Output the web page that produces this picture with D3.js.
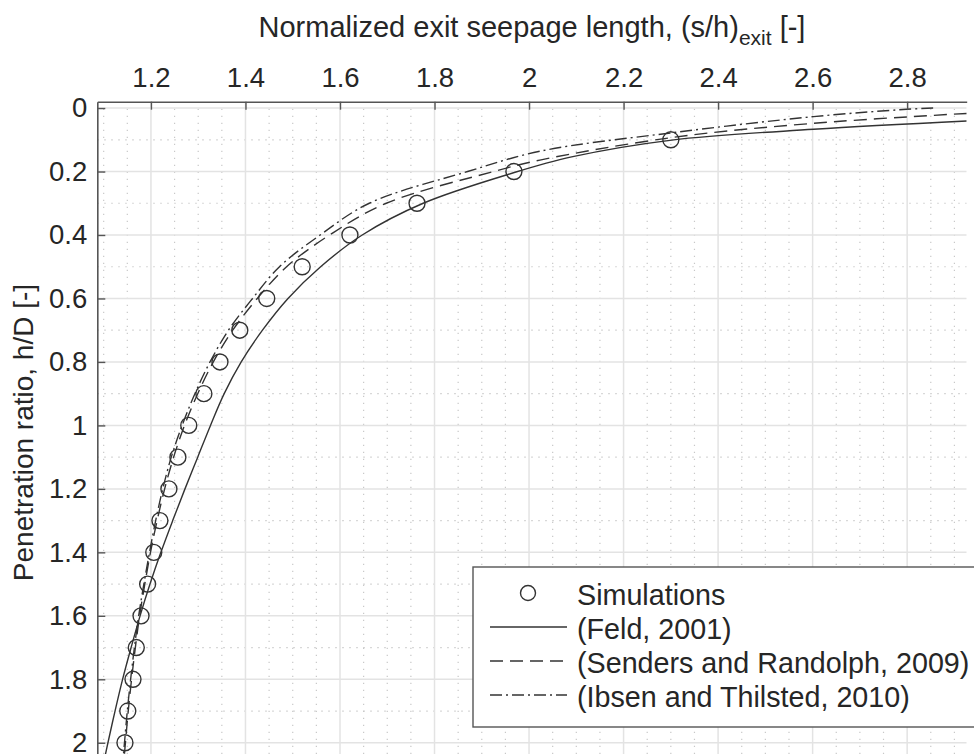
<!DOCTYPE html>
<html>
<head>
<meta charset="utf-8">
<script src="https://cdn.jsdelivr.net/npm/d3@7/dist/d3.min.js"></script>
<style>
  html, body { margin: 0; padding: 0; background: #fff; }
  svg { display: block; font-family: "Liberation Sans", Arial, Helvetica, sans-serif; }
</style>
</head>
<body>
<svg id="chart" width="974" height="754"></svg>
<script>
// Simulated penetration ratios and their normalized exit seepage lengths
const simHD = [0.1, 0.2, 0.3, 0.4, 0.5, 0.6, 0.7, 0.8, 0.9, 1.0,
               1.1, 1.2, 1.3, 1.4, 1.5, 1.6, 1.7, 1.8, 1.9, 2.0];
const simSH = [2.300, 1.968, 1.763, 1.621, 1.520, 1.445, 1.388, 1.346, 1.312, 1.280,
               1.257, 1.238, 1.219, 1.206, 1.193, 1.179, 1.169, 1.162, 1.151, 1.145];

// Feld (2001)
const feldHD = [0.041, 0.067, 0.101, 0.154, 0.204, 0.3, 0.4, 0.5, 0.6, 0.7, 0.8, 0.9, 1.0,
                1.1, 1.2, 1.3, 1.4, 1.5, 1.6, 1.7, 1.8, 1.9, 2.0, 2.07];
const feldSH = [2.926, 2.602, 2.302, 2.090, 1.967, 1.776, 1.647, 1.559, 1.490, 1.436, 1.391, 1.355, 1.326,
                1.299, 1.272, 1.246, 1.221, 1.198, 1.177, 1.158, 1.140, 1.124, 1.109, 1.099];

// Senders and Randolph (2009)
const sendersHD = [0.017, 0.048, 0.093, 0.164, 0.2, 0.3, 0.4, 0.5, 0.6, 0.7, 0.8, 0.9, 1.0,
                   1.1, 1.2, 1.3, 1.4, 1.5, 1.6, 1.7, 1.8, 1.9, 2.0, 2.07];
const sendersSH = [2.926, 2.602, 2.302, 2.023, 1.925, 1.698, 1.578, 1.487, 1.425, 1.373, 1.332, 1.299, 1.271,
                   1.248, 1.229, 1.213, 1.199, 1.187, 1.176, 1.167, 1.159, 1.152, 1.146, 1.142];

// Ibsen and Thilsted (2010)
const ibsenHD = [0.0, 0.004, 0.027, 0.078, 0.136, 0.2, 0.3, 0.4, 0.5, 0.6, 0.7, 0.8, 0.9, 1.0,
                 1.1, 1.2, 1.3, 1.4, 1.5, 1.6, 1.7, 1.8, 1.9, 2.0, 2.07];
const ibsenSH = [2.855, 2.799, 2.602, 2.302, 2.023, 1.870, 1.662, 1.558, 1.472, 1.415, 1.364, 1.325, 1.293, 1.266,
                 1.243, 1.225, 1.210, 1.197, 1.185, 1.174, 1.165, 1.157, 1.150, 1.144, 1.140];

const xTicks = [1.2, 1.4, 1.6, 1.8, 2.0, 2.2, 2.4, 2.6, 2.8];
const yTicks = [0, 0.2, 0.4, 0.6, 0.8, 1.0, 1.2, 1.4, 1.6, 1.8, 2.0];

const seriesNames = ["Simulations", "(Feld, 2001)", "(Senders and Randolph, 2009)", "(Ibsen and Thilsted, 2010)"];

const svg = d3.select("#chart");
const ink = "#333";

const plot = { left: 97.3, right: 966.7, top: 101.7, bottom: 763.4 };

const x = d3.scaleLinear().domain([1.0865, 2.926]).range([plot.left, plot.right]);
const y = d3.scaleLinear().domain([-0.02, 2.065]).range([plot.top, plot.bottom]);

const fmt = d => String(+d.toFixed(1));

// clip region for the plot area
svg.append("defs").append("clipPath").attr("id", "plot-clip")
  .append("rect")
  .attr("x", plot.left).attr("y", plot.top)
  .attr("width", plot.right - plot.left).attr("height", plot.bottom - plot.top);

// minor grid
const xMinor = d3.range(22, 59).map(i => i * 0.05).filter(v => Math.abs(v * 5 - Math.round(v * 5)) > 1e-6);
const yMinor = d3.range(0, 21).map(i => i * 0.1).filter(v => Math.abs(v * 5 - Math.round(v * 5)) > 1e-6);

const grid = svg.append("g").attr("clip-path", "url(#plot-clip)");
grid.selectAll(".xminor").data(xMinor).join("line")
  .attr("x1", d => x(d)).attr("x2", d => x(d))
  .attr("y1", plot.top).attr("y2", plot.bottom)
  .attr("stroke", "#c8c8c8").attr("stroke-width", 1.2).attr("stroke-dasharray", "1.4,5.6");
grid.selectAll(".yminor").data(yMinor).join("line")
  .attr("y1", d => y(d)).attr("y2", d => y(d))
  .attr("x1", plot.left).attr("x2", plot.right)
  .attr("stroke", "#c8c8c8").attr("stroke-width", 1.2).attr("stroke-dasharray", "1.4,5.6");

// major grid
grid.selectAll(".xmajor").data(xTicks).join("line")
  .attr("x1", d => x(d)).attr("x2", d => x(d))
  .attr("y1", plot.top).attr("y2", plot.bottom)
  .attr("stroke", "#e3e3e3").attr("stroke-width", 1.5);
grid.selectAll(".ymajor").data(yTicks).join("line")
  .attr("y1", d => y(d)).attr("y2", d => y(d))
  .attr("x1", plot.left).attr("x2", plot.right)
  .attr("stroke", "#e3e3e3").attr("stroke-width", 1.5);

// curves
const curveLayer = svg.append("g").attr("clip-path", "url(#plot-clip)");
const line = d3.line().x(d => x(d[1])).y(d => y(d[0])).curve(d3.curveCatmullRom.alpha(0.5));

const curves = [
  { hd: feldHD, sh: feldSH, dash: null },
  { hd: sendersHD, sh: sendersSH, dash: "13,7" },
  { hd: ibsenHD, sh: ibsenSH, dash: "12,4,2,4" }
];
curves.forEach(c => {
  curveLayer.append("path")
    .datum(d3.zip(c.hd, c.sh))
    .attr("d", line)
    .attr("fill", "none")
    .attr("stroke", ink)
    .attr("stroke-width", 1.4)
    .attr("stroke-dasharray", c.dash);
});

// simulation markers
curveLayer.selectAll(".sim").data(d3.zip(simHD, simSH)).join("circle")
  .attr("cx", d => x(d[1])).attr("cy", d => y(d[0])).attr("r", 8)
  .attr("fill", "none").attr("stroke", ink).attr("stroke-width", 1.4);

// axes
const axisColor = "#555";
const xAxis = svg.append("g").attr("transform", `translate(0,${plot.top})`)
  .call(d3.axisTop(x).tickValues(xTicks).tickFormat(fmt).tickSize(-8).tickSizeOuter(0).tickPadding(15));
const yAxis = svg.append("g").attr("transform", `translate(${plot.left},0)`)
  .call(d3.axisLeft(y).tickValues(yTicks).tickFormat(fmt).tickSize(-8).tickSizeOuter(0).tickPadding(10));

[xAxis, yAxis].forEach(a => {
  a.select(".domain").attr("stroke", axisColor).attr("stroke-width", 1.6);
  a.selectAll(".tick line").attr("stroke", axisColor).attr("stroke-width", 1.4);
  a.selectAll(".tick text").attr("fill", "#262626").style("font-size", "27.5px")
    .style("font-family", "'Liberation Sans', Arial, Helvetica, sans-serif");
});

// axis titles
const title = svg.append("text")
  .attr("x", (plot.left + plot.right) / 2).attr("y", 37)
  .attr("text-anchor", "middle").attr("fill", "#262626").style("font-size", "29px");
title.append("tspan").text("Normalized exit seepage length, (s/h)");
title.append("tspan").attr("dy", 8).style("font-size", "21px").text("exit");
title.append("tspan").attr("dy", -8).text(" [-]");

svg.append("text")
  .attr("transform", `translate(33,${(plot.top + plot.bottom) / 2}) rotate(-90)`)
  .attr("text-anchor", "middle").attr("fill", "#262626").style("font-size", "28px")
  .text("Penetration ratio, h/D [-]");

// legend
const legend = svg.append("g");
legend.append("rect")
  .attr("x", 473).attr("y", 567).attr("width", 530).attr("height", 160)
  .attr("fill", "#fff").attr("stroke", axisColor).attr("stroke-width", 1.4);

const rowY = [595, 629, 663, 697];
const styles = [null, null, "13,7", "12,4,2,4"];
seriesNames.forEach((name, i) => {
  const g = legend.append("g").attr("transform", `translate(0,${rowY[i]})`);
  if (i === 0) {
    g.append("circle").attr("cx", 528).attr("cy", -2).attr("r", 7.5)
      .attr("fill", "none").attr("stroke", ink).attr("stroke-width", 1.4);
  } else {
    g.append("line").attr("x1", 490).attr("x2", 567).attr("y1", -2).attr("y2", -2)
      .attr("stroke", ink).attr("stroke-width", 1.4).attr("stroke-dasharray", styles[i]);
  }
  g.append("text").attr("x", 577).attr("y", 10)
    .attr("fill", "#262626").style("font-size", "28.7px").text(name);
});
</script>
</body>
</html>
